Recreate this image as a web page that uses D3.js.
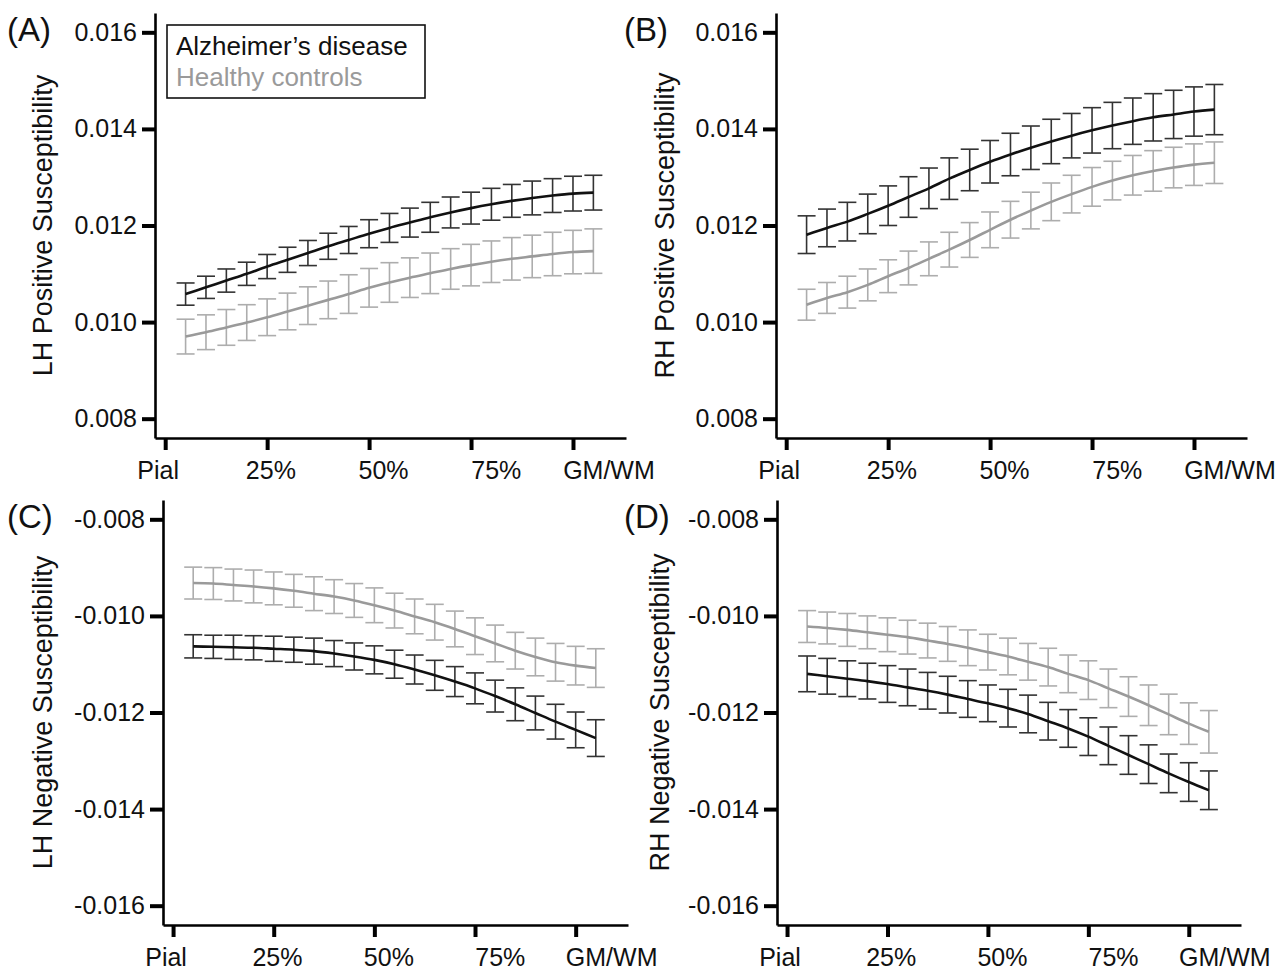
<!DOCTYPE html>
<html>
<head>
<meta charset="utf-8">
<script src="https://cdn.jsdelivr.net/npm/d3@7"></script>
<style>
  body { margin: 0; background: #fff; }
  svg text { font-family: "Liberation Sans", Arial, Helvetica, sans-serif; }
</style>
</head>
<body>
<svg id="chart" width="1285" height="976"></svg>
<script>
// depth positions (Pial -> GM/WM boundary), 21 sampled surfaces
var depthIndex = [1, 2, 3, 4, 5, 6, 7, 8, 9, 10, 11, 12, 13, 14, 15, 16, 17, 18, 19, 20, 21];
var xTickValues = [0, 5, 10, 15, 20];
var xTickLabels = ["Pial", "25%", "50%", "75%", "GM/WM"];

var posTicks = [0.008, 0.010, 0.012, 0.014, 0.016];
var negTicks = [-0.016, -0.014, -0.012, -0.010, -0.008];

var groupNames = ["Alzheimer\u2019s disease", "Healthy controls"];

// (A) LH positive susceptibility
var lhPosAD = [0.01058, 0.01072, 0.01086, 0.01100, 0.01115, 0.01129, 0.01143, 0.01157, 0.01170, 0.01183, 0.01195, 0.01206, 0.01217, 0.01227, 0.01236, 0.01244, 0.01251, 0.01257, 0.01262, 0.01266, 0.01268];
var lhPosADErr = [0.00023, 0.00023, 0.00024, 0.00024, 0.00025, 0.00026, 0.00026, 0.00027, 0.00028, 0.00029, 0.00030, 0.00030, 0.00031, 0.00032, 0.00033, 0.00033, 0.00034, 0.00035, 0.00035, 0.00036, 0.00036];
var lhPosHC = [0.00970, 0.00979, 0.00989, 0.00999, 0.01010, 0.01022, 0.01034, 0.01046, 0.01058, 0.01071, 0.01082, 0.01092, 0.01101, 0.01110, 0.01118, 0.01125, 0.01131, 0.01136, 0.01141, 0.01145, 0.01147];
var lhPosHCErr = [0.00036, 0.00036, 0.00037, 0.00037, 0.00038, 0.00038, 0.00039, 0.00039, 0.00040, 0.00040, 0.00041, 0.00041, 0.00042, 0.00042, 0.00043, 0.00043, 0.00044, 0.00044, 0.00045, 0.00045, 0.00046];

// (B) RH positive susceptibility
var rhPosAD = [0.01181, 0.01195, 0.01208, 0.01224, 0.01241, 0.01259, 0.01277, 0.01297, 0.01315, 0.01332, 0.01347, 0.01361, 0.01374, 0.01386, 0.01397, 0.01407, 0.01416, 0.01424, 0.01430, 0.01436, 0.01440];
var rhPosADErr = [0.00039, 0.00039, 0.00040, 0.00041, 0.00041, 0.00042, 0.00042, 0.00043, 0.00043, 0.00044, 0.00044, 0.00045, 0.00046, 0.00046, 0.00047, 0.00048, 0.00048, 0.00049, 0.00050, 0.00051, 0.00052];
var rhPosHC = [0.01036, 0.01050, 0.01062, 0.01077, 0.01095, 0.01112, 0.01131, 0.01150, 0.01170, 0.01191, 0.01212, 0.01231, 0.01249, 0.01265, 0.01280, 0.01293, 0.01304, 0.01313, 0.01320, 0.01326, 0.01330];
var rhPosHCErr = [0.00032, 0.00032, 0.00033, 0.00033, 0.00034, 0.00035, 0.00035, 0.00036, 0.00036, 0.00037, 0.00038, 0.00038, 0.00039, 0.00039, 0.00040, 0.00040, 0.00041, 0.00042, 0.00042, 0.00043, 0.00043];

// (C) LH negative susceptibility
var lhNegAD = [-0.01063, -0.01064, -0.01065, -0.01066, -0.01068, -0.01070, -0.01073, -0.01078, -0.01084, -0.01091, -0.01100, -0.01111, -0.01123, -0.01136, -0.01150, -0.01166, -0.01183, -0.01201, -0.01219, -0.01236, -0.01253];
var lhNegADErr = [0.00024, 0.00024, 0.00025, 0.00025, 0.00026, 0.00026, 0.00027, 0.00027, 0.00028, 0.00029, 0.00029, 0.00030, 0.00031, 0.00031, 0.00032, 0.00033, 0.00034, 0.00035, 0.00036, 0.00037, 0.00038];
var lhNegHC = [-0.00932, -0.00933, -0.00936, -0.00939, -0.00943, -0.00948, -0.00954, -0.00960, -0.00968, -0.00978, -0.00989, -0.01001, -0.01013, -0.01027, -0.01042, -0.01057, -0.01072, -0.01085, -0.01096, -0.01103, -0.01108];
var lhNegHCErr = [0.00033, 0.00033, 0.00033, 0.00034, 0.00034, 0.00034, 0.00035, 0.00035, 0.00035, 0.00036, 0.00036, 0.00036, 0.00037, 0.00037, 0.00038, 0.00038, 0.00038, 0.00039, 0.00039, 0.00040, 0.00040];

// (D) RH negative susceptibility
var rhNegAD = [-0.01120, -0.01125, -0.01130, -0.01135, -0.01141, -0.01148, -0.01155, -0.01163, -0.01172, -0.01181, -0.01191, -0.01203, -0.01218, -0.01233, -0.01250, -0.01269, -0.01288, -0.01307, -0.01326, -0.01344, -0.01361];
var rhNegADErr = [0.00037, 0.00037, 0.00037, 0.00037, 0.00038, 0.00038, 0.00038, 0.00038, 0.00038, 0.00038, 0.00039, 0.00039, 0.00039, 0.00039, 0.00039, 0.00039, 0.00040, 0.00040, 0.00040, 0.00040, 0.00040];
var rhNegHC = [-0.01022, -0.01025, -0.01029, -0.01034, -0.01039, -0.01044, -0.01051, -0.01058, -0.01066, -0.01075, -0.01084, -0.01095, -0.01106, -0.01120, -0.01133, -0.01150, -0.01167, -0.01185, -0.01204, -0.01223, -0.01240];
var rhNegHCErr = [0.00033, 0.00033, 0.00034, 0.00034, 0.00035, 0.00035, 0.00036, 0.00036, 0.00037, 0.00037, 0.00038, 0.00038, 0.00039, 0.00039, 0.00040, 0.00040, 0.00041, 0.00042, 0.00042, 0.00043, 0.00044];

// panel setup: where each plot sits on the page
var panels = [
  { tag: "(A)", title: "LH Positive Susceptibility", ad: lhPosAD, adErr: lhPosADErr, hc: lhPosHC, hcErr: lhPosHCErr,
    ticks: posTicks, yDomain: [0.0076, 0.0164], left: 155, right: 626, top: 13, bottom: 438, tagX: 7, titleX: 52, legend: true },
  { tag: "(B)", title: "RH Positive Susceptibility", ad: rhPosAD, adErr: rhPosADErr, hc: rhPosHC, hcErr: rhPosHCErr,
    ticks: posTicks, yDomain: [0.0076, 0.0164], left: 776, right: 1247, top: 13, bottom: 438, tagX: 624, titleX: 674 },
  { tag: "(C)", title: "LH Negative Susceptibility", ad: lhNegAD, adErr: lhNegADErr, hc: lhNegHC, hcErr: lhNegHCErr,
    ticks: negTicks, yDomain: [-0.0164, -0.0076], left: 163, right: 628, top: 500, bottom: 925, tagX: 7, titleX: 52 },
  { tag: "(D)", title: "RH Negative Susceptibility", ad: rhNegAD, adErr: rhNegADErr, hc: rhNegHC, hcErr: rhNegHCErr,
    ticks: negTicks, yDomain: [-0.0164, -0.0076], left: 777, right: 1241, top: 500, bottom: 925, tagX: 624, titleX: 669 }
];

var adColor = "#111111", adBarColor = "#333333";
var hcColor = "#9a9a9a", hcBarColor = "#adadad";

var svg = d3.select("#chart");

function drawSeries(g, x, y, values, errs, lineColor, barColor) {
  var pts = depthIndex.map(function (d, i) { return { x: d, y: values[i], e: errs[i] }; });
  var cap = 9;

  var bars = g.append("g").attr("stroke", barColor).attr("stroke-width", 1.6).attr("fill", "none");
  pts.forEach(function (p) {
    var cx = x(p.x), y1 = y(p.y + p.e), y2 = y(p.y - p.e);
    bars.append("line").attr("x1", cx).attr("x2", cx).attr("y1", y1).attr("y2", y2);
    bars.append("line").attr("x1", cx - cap).attr("x2", cx + cap).attr("y1", y1).attr("y2", y1);
    bars.append("line").attr("x1", cx - cap).attr("x2", cx + cap).attr("y1", y2).attr("y2", y2);
  });

  var line = d3.line()
    .x(function (d) { return x(d.x); })
    .y(function (d) { return y(d.y); })
    .curve(d3.curveMonotoneX);

  g.append("path")
    .datum(pts)
    .attr("d", line)
    .attr("fill", "none")
    .attr("stroke", lineColor)
    .attr("stroke-width", 2.6);
}

panels.forEach(function (p) {
  var x = d3.scaleLinear().domain([-0.5, 22.6]).range([p.left, p.right]);
  var y = d3.scaleLinear().domain(p.yDomain).range([p.bottom, p.top]);
  var g = svg.append("g");

  // data first, axes on top
  drawSeries(g, x, y, p.hc, p.hcErr, hcColor, hcBarColor);
  drawSeries(g, x, y, p.ad, p.adErr, adColor, adBarColor);

  // y axis
  var yAxis = g.append("g")
    .attr("transform", "translate(" + p.left + ",0)")
    .call(d3.axisLeft(y).tickValues(p.ticks).tickSize(13).tickSizeOuter(0).tickPadding(5)
      .tickFormat(function (d) { return d.toFixed(3); }));

  // x axis (labels drawn separately below)
  var xAxis = g.append("g")
    .attr("transform", "translate(0," + p.bottom + ")")
    .call(d3.axisBottom(x).tickValues(xTickValues).tickSize(12).tickSizeOuter(0).tickFormat(""));

  [yAxis, xAxis].forEach(function (ax) {
    ax.select(".domain").attr("stroke", "#000").attr("stroke-width", 2.6);
    ax.selectAll(".tick line").attr("stroke", "#000").attr("stroke-width", 4);
  });
  yAxis.selectAll(".tick text")
    .attr("font-size", 25)
    .attr("fill", "#111")
    .style("font-family", "'Liberation Sans', Arial, sans-serif");

  // the depth labels sit slightly spread out relative to the tick marks
  var labelX = d3.scaleLinear().domain([0, 20]).range([x(0) - 7, x(20) + 36]);
  g.selectAll(".depth-label")
    .data(xTickValues)
    .enter()
    .append("text")
    .attr("class", "depth-label")
    .attr("x", function (d) { return labelX(d); })
    .attr("y", p.bottom + 41)
    .attr("text-anchor", "middle")
    .attr("font-size", 25)
    .attr("fill", "#111")
    .text(function (d, i) { return xTickLabels[i]; });

  // panel tag
  g.append("text")
    .attr("x", p.tagX)
    .attr("y", p.top + 28)
    .attr("font-size", 33)
    .attr("fill", "#111")
    .text(p.tag);

  // axis title
  g.append("text")
    .attr("transform", "translate(" + p.titleX + "," + ((p.top + p.bottom) / 2) + ") rotate(-90)")
    .attr("text-anchor", "middle")
    .attr("font-size", 27)
    .attr("fill", "#111")
    .text(p.title);

  if (p.legend) {
    var lg = g.append("g");
    lg.append("rect")
      .attr("x", 167).attr("y", 25).attr("width", 258).attr("height", 73)
      .attr("fill", "#fff").attr("stroke", "#111").attr("stroke-width", 1.6);
    lg.append("text").attr("x", 176).attr("y", 55).attr("font-size", 26).attr("fill", adColor).text(groupNames[0]);
    lg.append("text").attr("x", 176).attr("y", 86).attr("font-size", 26).attr("fill", hcColor).text(groupNames[1]);
  }
});
</script>
</body>
</html>
